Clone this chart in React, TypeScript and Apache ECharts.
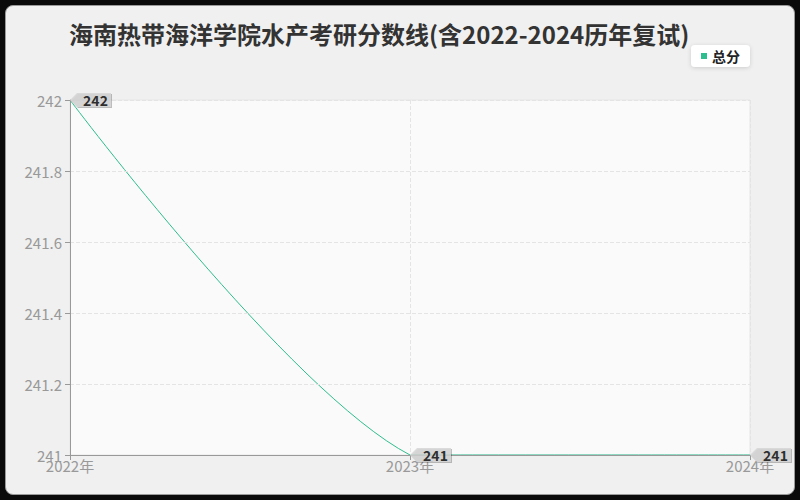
import React, { useEffect, useRef } from "react";
import * as echarts from "echarts";

const TITLE = "海南热带海洋学院水产考研分数线(含2022-2024历年复试)";
const YEARS = ["2022年", "2023年", "2024年"];
const SCORES = [242, 241, 241];
const SERIES_NAME = "总分";

const FONT = "'Noto Sans CJK SC', 'Noto Sans', sans-serif";
const GREEN = "#2dbd8f";
const SMOOTH = 0.3;

// bezier control points, old-style smoothing clamped to the points' bounding box
function smoothSegments(pts: number[][]) {
  const xs = pts.map((p) => p[0]);
  const ys = pts.map((p) => p[1]);
  const min = [Math.min(...xs), Math.min(...ys)];
  const max = [Math.max(...xs), Math.max(...ys)];
  const clamp = (p: number[]) => [
    Math.min(max[0], Math.max(min[0], p[0])),
    Math.min(max[1], Math.max(min[1], p[1])),
  ];
  const cps: number[][] = [];
  pts.forEach((p, i) => {
    if (i === 0 || i === pts.length - 1) {
      cps.push(p.slice(), p.slice());
      return;
    }
    const prev = pts[i - 1];
    const next = pts[i + 1];
    const v = [(next[0] - prev[0]) * SMOOTH, (next[1] - prev[1]) * SMOOTH];
    let d0 = Math.hypot(p[0] - prev[0], p[1] - prev[1]);
    let d1 = Math.hypot(p[0] - next[0], p[1] - next[1]);
    const sum = d0 + d1;
    if (sum) {
      d0 /= sum;
      d1 /= sum;
    }
    cps.push(clamp([p[0] - v[0] * d0, p[1] - v[1] * d0]));
    cps.push(clamp([p[0] + v[0] * d1, p[1] + v[1] * d1]));
  });
  const segs = [];
  for (let i = 0; i < pts.length - 1; i++) {
    const a = cps[i * 2 + 1];
    const b = cps[(i + 1) * 2];
    segs.push({
      x1: pts[i][0], y1: pts[i][1],
      cpx1: a[0], cpy1: a[1],
      cpx2: b[0], cpy2: b[1],
      x2: pts[i + 1][0], y2: pts[i + 1][1],
    });
  }
  return segs;
}

export default function App() {
  const chartRef = useRef<HTMLDivElement>(null);

  useEffect(() => {
    if (!chartRef.current) return;
    const chart = echarts.init(chartRef.current, undefined, { renderer: "svg" });

    chart.setOption({
      animation: false,
      backgroundColor: "transparent",
      textStyle: { fontFamily: FONT },
      title: {
        text: TITLE,
        left: 64,
        top: 16,
        textStyle: { fontSize: 24, fontWeight: "bold", color: "#333", fontFamily: FONT },
      },
      legend: {
        right: 50,
        top: 45,
        backgroundColor: "#fff",
        borderRadius: 4,
        padding: [4, 10, 4, 10],
        shadowColor: "rgba(0,0,0,0.15)",
        shadowBlur: 4,
        shadowOffsetY: 1,
        icon: "rect",
        itemWidth: 6,
        itemHeight: 6,
        itemGap: 4,
        data: [{ name: SERIES_NAME, itemStyle: { color: GREEN } }],
        textStyle: { fontSize: 14, fontWeight: "bold", color: "#222", fontFamily: FONT },
      },
      grid: {
        left: 70,
        right: 50,
        top: 100,
        bottom: 45,
        show: true,
        backgroundColor: "#fafafa",
        borderColor: "#e6e6e6",
        borderWidth: 1,
      },
      xAxis: {
        type: "category",
        data: YEARS,
        boundaryGap: false,
        z: 5,
        axisLine: { lineStyle: { color: "#999" } },
        axisTick: { show: true, lineStyle: { color: "#999" } },
        axisLabel: { color: "#999", fontSize: 15, margin: 3, fontFamily: FONT },
        splitLine: { show: true, showMinLine: false, lineStyle: { color: "#e4e4e4", type: "dashed" } },
      },
      yAxis: {
        type: "value",
        min: 241,
        max: 242,
        interval: 0.2,
        z: 5,
        axisLine: { show: true, lineStyle: { color: "#999" } },
        axisTick: { show: true, length: 5, lineStyle: { color: "#999" } },
        axisLabel: { color: "#999", fontSize: 15, margin: 8, fontFamily: FONT },
        splitLine: { show: true, showMinLine: false, lineStyle: { color: "#e4e4e4", type: "dashed" } },
      },
      series: [
        {
          name: SERIES_NAME,
          type: "custom",
          data: SCORES.map((v, i) => [i, v]),
          encode: { x: 0, y: 1 },
          itemStyle: { color: GREEN },
          clip: true,
          z: 1,
          renderItem: (params: any, api: any) => {
            if (params.dataIndex !== 0) return null;
            const pts = SCORES.map((v, i) => api.coord([i, v]));
            return {
              type: "group",
              children: smoothSegments(pts).map((shape) => ({
                type: "bezierCurve",
                shape,
                style: { stroke: GREEN, lineWidth: 1, fill: "none" },
              })),
            };
          },
        },
        {
          name: "tags",
          type: "scatter",
          data: SCORES,
          symbol: "path://M0,7 L7,0 L41,0 L41,14 L7,14 Z",
          symbolSize: [41, 14],
          symbolOffset: [20.5, 0],
          itemStyle: {
            color: "#d3d3d3",
            shadowColor: "rgba(0,0,0,0.3)",
            shadowBlur: 1,
            shadowOffsetX: 1,
            shadowOffsetY: 1,
          },
          label: {
            show: true,
            position: "inside",
            offset: [5, 0],
            color: "#000",
            fontSize: 14,
            fontWeight: "bold",
            fontFamily: FONT,
          },
          clip: false,
          silent: true,
          z: 10,
        },
      ],
    });

    return () => {
      chart.dispose();
    };
  }, []);

  return (
    <div style={{ position: "fixed", left: 0, top: 0, width: 800, height: 500, background: "#0a0a0a" }}>
      <div
        style={{
          position: "absolute",
          left: 5,
          top: 5,
          width: 788,
          height: 488,
          border: "1px solid #9a9a9a",
          borderRadius: 8,
          background: "#f0f0f0",
        }}
      />
      <div ref={chartRef} style={{ position: "absolute", left: 0, top: 0, width: 800, height: 500 }} />
    </div>
  );
}
